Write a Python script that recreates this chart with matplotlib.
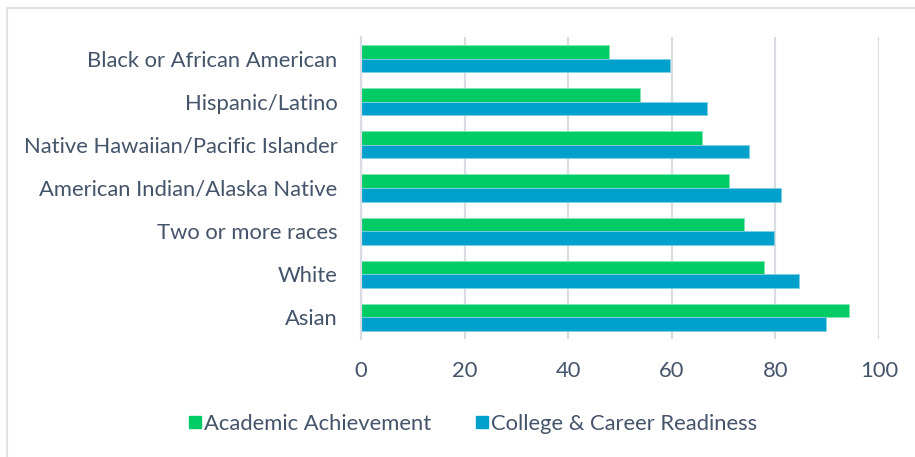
import matplotlib.pyplot as plt
from matplotlib.lines import Line2D
import numpy as np

# data
groups = ["Black or African American", "Hispanic/Latino",
          "Native Hawaiian/Pacific Islander", "American Indian/Alaska Native",
          "Two or more races", "White", "Asian"]
academic = [47.9, 53.9, 65.9, 71.1, 73.9, 77.8, 94.3]
readiness = [59.6, 66.7, 74.9, 81.0, 79.7, 84.6, 89.8]
series_names = ["Academic Achievement", "College & Career Readiness"]
xticks = [0, 20, 40, 60, 80, 100]

green = "#00CC66"
blue = "#00A0CC"
text_col = "#44546A"
grid_col = "#D9DDE3"

plt.rcParams['font.family'] = ['Lato', 'DejaVu Sans']

W, H = 915, 457
fig = plt.figure(figsize=(W / 100, H / 100), dpi=100)
ax = fig.add_axes([361 / W, 1 - 339 / H, (879 - 361) / W, (339 - 37) / H])

# first category on top
y = np.arange(len(groups))[::-1]
h = 0.315
ax.barh(y + h / 2, academic, height=h, color=green, edgecolor="#7FE6B3",
        linewidth=0.6, label=series_names[0], zorder=3)
ax.barh(y - h / 2, readiness, height=h, color=blue, edgecolor="#7FCFE5",
        linewidth=0.6, label=series_names[1], zorder=3)

ax.set_xlim(0, 100)
ax.set_ylim(-0.5, len(groups) - 0.5)
ax.set_xticks(xticks)
ax.set_yticks(y)
ax.set_yticklabels(groups)
ax.tick_params(axis="both", length=0, labelsize=15.8, colors=text_col)
ax.tick_params(axis="y", pad=17)
ax.tick_params(axis="x", pad=16)
ax.grid(axis="x", color=grid_col, linewidth=1.6, zorder=0)
for s in ["top", "right", "bottom"]:
    ax.spines[s].set_visible(False)
ax.spines["left"].set_color(grid_col)
ax.spines["left"].set_linewidth(1.6)
ax.spines["left"].set_zorder(4)

handles = [Line2D([], [], marker="s", linestyle="none", markersize=9, color=c)
           for c in (green, blue)]
fig.legend(handles, series_names, loc="center", bbox_to_anchor=(0.516, 1 - 424 / H),
           ncol=2, frameon=False, fontsize=15.8, labelcolor=text_col,
           handletextpad=0.05, columnspacing=2.0, handlelength=0.7)

# chart frame (only top and left edges are visible in the reference)
fig.add_artist(Line2D([7 / W, 1], [1 - 8 / H, 1 - 8 / H], color="#DFE3E8", lw=1.5))
fig.add_artist(Line2D([7 / W, 7 / W], [0, 1 - 8 / H], color="#DFE3E8", lw=1.5))

fig.savefig("out.png", dpi=100)
